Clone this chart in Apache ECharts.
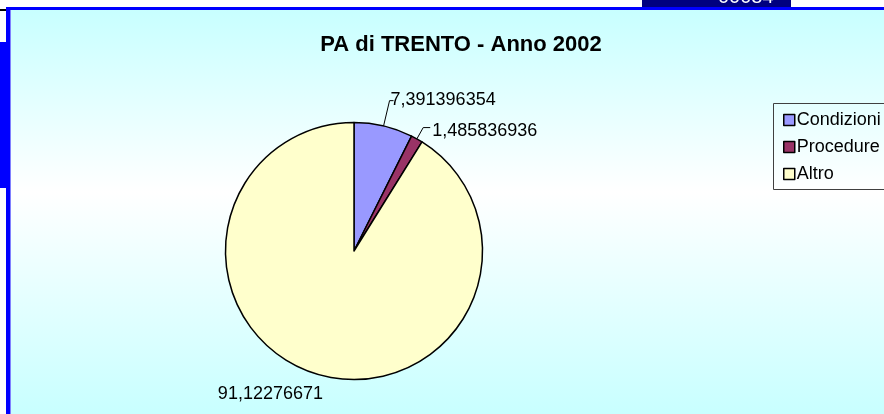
<!DOCTYPE html>
<html>
<head>
<meta charset="utf-8">
<script src="https://cdn.jsdelivr.net/npm/echarts@6/dist/echarts.min.js"></script>
<style>
  html, body { margin: 0; padding: 0; background: #fff; }
  #chart { width: 884px; height: 414px; }
</style>
</head>
<body>
<div id="chart"></div>
<script>
var categories = ["Condizioni", "Procedure", "Altro"];
var values = [7.391396354, 1.485836936, 91.12276671];
var colors = ["#9999ff", "#993366", "#ffffcc"];
var titleText = "PA di TRENTO - Anno 2002";

var chart = echarts.init(document.getElementById("chart"));

var pieData = [];
for (var i = 0; i < categories.length; i++) {
  pieData.push({
    name: categories[i],
    value: values[i],
    itemStyle: { color: colors[i] }
  });
}
// Excel hides the leader line of the big slice
pieData[2].labelLine = { show: false, length: 6, length2: 0 };
pieData[1].labelLine = { length: 13, length2: 7 };

chart.setOption({
  animation: false,
  textStyle: { fontFamily: "Liberation Sans, Arial, sans-serif" },
  title: {
    text: titleText,
    left: 456,
    top: 29,
    textAlign: "center",
    textStyle: {
      fontFamily: "Liberation Sans, Arial, sans-serif",
      fontSize: 22,
      fontWeight: "bold",
      color: "#000"
    }
  },
  legend: {
    orient: "vertical",
    left: 778,
    top: 106,
    itemWidth: 11,
    itemHeight: 11,
    itemGap: 9,
    icon: "rect",
    data: categories,
    itemStyle: { borderColor: "#000", borderWidth: 1.5 },
    textStyle: {
      fontSize: 18,
      color: "#000",
      padding: [0, 0, 0, -3],
      lineHeight: 18
    }
  },
  graphic: [
    {
      type: "rect", z: -10, silent: true,
      shape: { x: 10, y: 10, width: 874, height: 404 },
      style: {
        fill: new echarts.graphic.LinearGradient(0, 0, 0, 1, [
          { offset: 0, color: "#c8ffff" },
          { offset: 0.45, color: "#ffffff" },
          { offset: 1, color: "#c8ffff" }
        ])
      }
    },
    { type: "rect", z: -5, silent: true, shape: { x: 6, y: 7, width: 878, height: 3 }, style: { fill: "#0000ff" } },
    { type: "rect", z: -5, silent: true, shape: { x: 6, y: 7, width: 4, height: 407 }, style: { fill: "#0000ff" } },
    { type: "rect", z: -5, silent: true, shape: { x: 10, y: 10, width: 1, height: 404 }, style: { fill: "#8080ff" } },
    { type: "rect", z: -5, silent: true, shape: { x: 0, y: 42, width: 6, height: 146 }, style: { fill: "#0000ff" } },
    { type: "rect", z: -5, silent: true, shape: { x: 0, y: 9, width: 6, height: 2 }, style: { fill: "#000" } },
    { type: "rect", z: -5, silent: true, shape: { x: 642, y: 0, width: 149, height: 7 }, style: { fill: "#000080" } },
    {
      type: "text", z: -4, silent: true, left: 718, top: -13,
      style: { text: "00084", fill: "#fff", font: "20px Liberation Sans, Arial, sans-serif" }
    },
    {
      type: "rect", z: -3, silent: true,
      shape: { x: 773.5, y: 103.5, width: 200, height: 86 },
      style: { fill: "none", stroke: "#404040", lineWidth: 1 }
    }
  ],
  series: [
    {
      type: "pie",
      center: [354, 251],
      radius: 128.5,
      startAngle: 90,
      clockwise: true,
      data: pieData,
      itemStyle: { borderColor: "#000", borderWidth: 1.5 },
      label: {
        show: true,
        position: "outside",
        fontSize: 18,
        color: "#000",
        distanceToLabelLine: 2,
        formatter: function (p) { return String(p.value).replace(".", ","); }
      },
      labelLine: {
        show: true,
        length: 26,
        length2: 4,
        lineStyle: { color: "#000", width: 1 }
      },
      labelLayout: function (p) {
        if (p.dataIndex === 0) return { dx: -5, dy: -1 };
        if (p.dataIndex === 1) return { dy: 3 };
        if (p.dataIndex === 2) return { dx: 8, dy: 14 };
        return {};
      },
      emphasis: { disabled: true }
    }
  ]
});
</script>
</body>
</html>
